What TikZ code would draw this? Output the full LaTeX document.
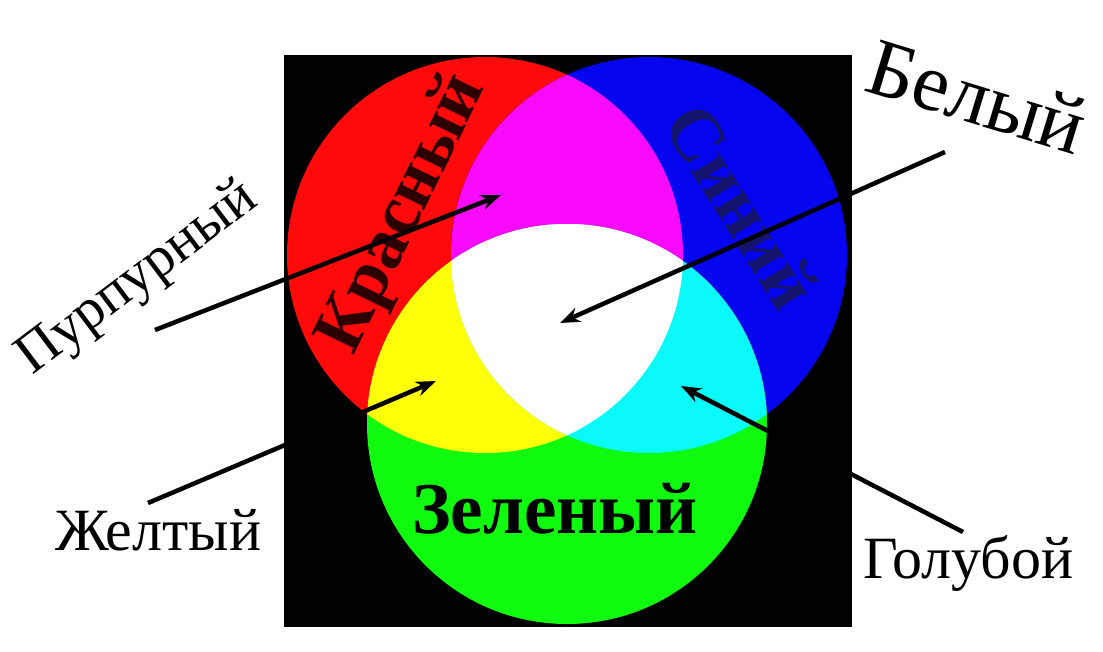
\documentclass[tikz,border=0pt]{standalone}
\usepackage{fontspec}
\setmainfont{Liberation Serif}
\usetikzlibrary{arrows.meta}
\definecolor{cR}{RGB}{255,10,10}
\definecolor{cG}{RGB}{15,250,15}
\definecolor{cB}{RGB}{5,5,240}
\definecolor{cM}{RGB}{250,10,250}
\definecolor{cY}{RGB}{255,255,10}
\definecolor{cC}{RGB}{10,250,250}
\definecolor{txtR}{RGB}{45,0,0}
\definecolor{txtB}{RGB}{20,20,110}
\tikzset{
  lbl/.style={font=\fontsize{60}{60}\selectfont, inner sep=0pt, text=black},
  big/.style={font=\fontsize{74}{74}\selectfont\bfseries, inner sep=0pt},
  arr/.style={line width=4.5pt, draw=black, -{Stealth[length=20pt,width=15pt]}}
}
\begin{document}
\begin{tikzpicture}[x=1pt,y=-1pt]
\useasboundingbox (0,0) rectangle (1103,651);
\fill[white] (0,0) rectangle (1103,651);
\fill[black] (284,55) rectangle (852,627);
% primaries
\fill[cR] (485,255) circle[radius=198pt];
\fill[cB] (649,255) circle[radius=198pt];
\fill[cG] (567,424) circle[radius=200pt];
% pairwise
\begin{scope}
  \clip (485,255) circle[radius=198pt];
  \fill[cM] (649,255) circle[radius=198pt];
  \fill[cY] (567,424) circle[radius=200pt];
\end{scope}
\begin{scope}
  \clip (649,255) circle[radius=198pt];
  \fill[cC] (567,424) circle[radius=200pt];
\end{scope}
\begin{scope}
  \clip (485,255) circle[radius=198pt];
  \clip (649,255) circle[radius=198pt];
  \fill[white] (567,424) circle[radius=200pt];
\end{scope}
% bold labels in the circles
\node[big, text=txtR, rotate=64, font=\fontsize{72}{72}\selectfont\bfseries] (kras) at (404,214) {Красный};
\node[big, text=txtB, rotate=-58] (sin) at (742,206) {Синий};
\node[big, text=black, anchor=base west, font=\fontsize{73}{73}\selectfont\bfseries] (zel) at (412,533) {Зеленый};
% outside labels
\node[lbl, rotate=37, anchor=base west, font=\fontsize{57}{57}\selectfont] (purp) at (32,376) {Пурпурный};
\node[lbl, font=\fontsize{82}{82}\selectfont, rotate=-17, anchor=base west] (bel) at (862,90) {Белый};
\node[lbl, anchor=base west] (zhel) at (55,550) {Желтый};
\node[lbl, anchor=base west] (gol) at (863,578) {Голубой};
% arrows
\coordinate (purpS) at (155,330);
\coordinate (purpT) at (501,195);
\coordinate (belS) at (945,152);
\coordinate (belT) at (560,323);
\coordinate (zhelS) at (148,503);
\coordinate (zhelT) at (436,381);
\coordinate (golS) at (963,532);
\coordinate (golT) at (681,386);
\draw[arr] (purpS) -- (purpT);
\draw[arr] (belS) -- (belT);
\draw[arr] (zhelS) -- (zhelT);
\draw[arr] (golS) -- (golT);
\end{tikzpicture}
\end{document}
